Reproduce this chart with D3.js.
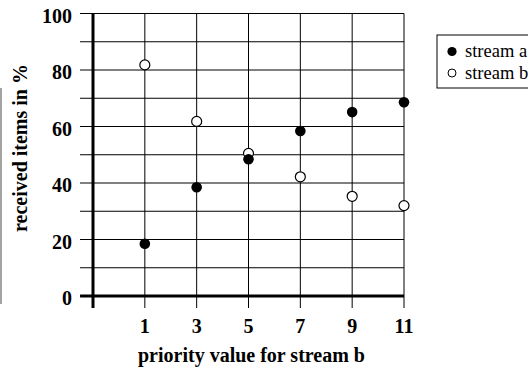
<!DOCTYPE html>
<html>
<head>
<meta charset="utf-8">
<script src="https://cdn.jsdelivr.net/npm/d3@7"></script>
<style>
  html, body { margin: 0; padding: 0; background: #fff; overflow: hidden; }
  svg { display: block; }
  text { font-family: "Liberation Serif", "Times New Roman", serif; }
</style>
</head>
<body>
<svg id="chart" width="528" height="368"></svg>
<script>
// priority values used for stream b
const priorities = [1, 3, 5, 7, 9, 11];
// share of received items (%) per stream
const streamA = [18.5, 38.5, 48.4, 58.4, 65.1, 68.6];
const streamB = [81.8, 61.8, 50.5, 42.2, 35.3, 32.0];
const yTickLabels = [0, 20, 40, 60, 80, 100];
const yGrid = [10, 20, 30, 40, 50, 60, 70, 80, 90, 100];
const seriesNames = ["stream a", "stream b"];

const svg = d3.select("#chart");
const x = d3.scaleLinear().domain([-1, 11]).range([93, 404]);
const y = d3.scaleLinear().domain([0, 100]).range([296, 13.5]);
const gridLeft = x(-1.5), gridRight = x(11), tickBottom = y(0) + 12;

// horizontal grid
svg.append("g").selectAll("line").data(yGrid).join("line")
  .attr("x1", gridLeft).attr("x2", gridRight)
  .attr("y1", d => y(d)).attr("y2", d => y(d))
  .attr("stroke", "#000").attr("stroke-width", 1);

// vertical grid, running below the axis as ticks
svg.append("g").selectAll("line").data(priorities).join("line")
  .attr("x1", d => x(d)).attr("x2", d => x(d))
  .attr("y1", y(100)).attr("y2", tickBottom)
  .attr("stroke", "#000").attr("stroke-width", 1);

// heavy axis lines
svg.append("line")
  .attr("x1", x(-1)).attr("x2", x(-1))
  .attr("y1", y(100)).attr("y2", tickBottom)
  .attr("stroke", "#000").attr("stroke-width", 3);
svg.append("line")
  .attr("x1", gridLeft).attr("x2", gridRight)
  .attr("y1", y(0)).attr("y2", y(0))
  .attr("stroke", "#000").attr("stroke-width", 3);

// y tick labels
svg.append("g").selectAll("text").data(yTickLabels).join("text")
  .attr("x", 72).attr("y", d => y(d) + 9)
  .attr("text-anchor", "end")
  .attr("font-size", 20).attr("font-weight", "bold")
  .text(d => d);

// x tick labels
svg.append("g").selectAll("text").data(priorities).join("text")
  .attr("x", d => x(d)).attr("y", 333)
  .attr("text-anchor", "middle")
  .attr("font-size", 20).attr("font-weight", "bold")
  .text(d => d);

// axis titles
svg.append("text")
  .attr("x", 251.5).attr("y", 362)
  .attr("text-anchor", "middle")
  .attr("font-size", 20).attr("font-weight", "bold")
  .text("priority value for stream b");
svg.append("text")
  .attr("transform", "translate(27,148) rotate(-90)")
  .attr("text-anchor", "middle")
  .attr("font-size", 20).attr("font-weight", "bold")
  .text("received items in  %");

// thin frame edge on the far left
svg.append("line")
  .attr("x1", 1).attr("x2", 1).attr("y1", 88).attr("y2", 304)
  .attr("stroke", "#666").attr("stroke-width", 1.2);

// points
svg.append("g").selectAll("circle").data(priorities).join("circle")
  .attr("cx", d => x(d)).attr("cy", (d, i) => y(streamB[i])).attr("r", 5)
  .attr("fill", "#fff").attr("stroke", "#000").attr("stroke-width", 1.2);
svg.append("g").selectAll("circle").data(priorities).join("circle")
  .attr("cx", d => x(d)).attr("cy", (d, i) => y(streamA[i])).attr("r", 5.3)
  .attr("fill", "#000");

// legend (box runs off the right edge)
const lg = svg.append("g");
lg.append("rect")
  .attr("x", 437).attr("y", 35).attr("width", 120).attr("height", 53)
  .attr("fill", "#fff").attr("stroke", "#000").attr("stroke-width", 1);
seriesNames.forEach((name, i) => {
  const cy = 51.5 + i * 21.5;
  lg.append("circle")
    .attr("cx", 452).attr("cy", cy).attr("r", i === 0 ? 4.6 : 4)
    .attr("fill", i === 0 ? "#000" : "#fff")
    .attr("stroke", "#000").attr("stroke-width", i === 0 ? 0 : 1);
  lg.append("text")
    .attr("x", 465).attr("y", cy + 5.5)
    .attr("font-size", 18.5)
    .text(name);
});
</script>
</body>
</html>
